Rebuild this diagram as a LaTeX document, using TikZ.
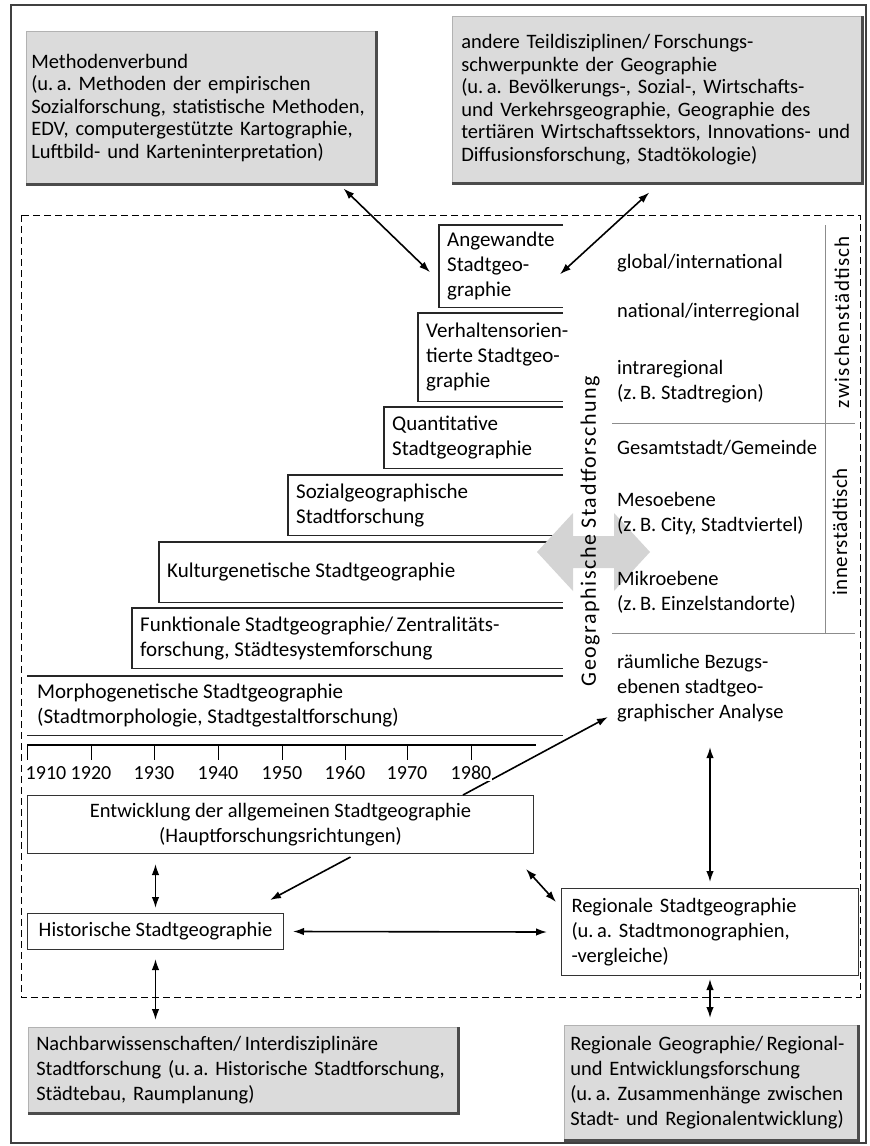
\documentclass[tikz,border=0pt]{standalone}
\usepackage{fontspec}
\setmainfont{Carlito}
\usetikzlibrary{arrows.meta,calc}
\frenchspacing

\begin{document}
\begin{tikzpicture}[x=1pt,y=-1pt,font=\fontsize{20.5}{25}\selectfont,
  greybox/.style={fill=black!14,draw=black!30,line width=0.5pt,anchor=north west,align=left,
    inner ysep=0pt,font=\fontsize{20.5}{22.5}\selectfont},
  shadow/.style={line width=2.2pt,black!70},
  plainbox/.style={draw=black!80,line width=1pt,anchor=north west,inner ysep=0pt},
  stairbox/.style={anchor=north west,align=left,inner xsep=8pt,inner ysep=0pt,font=\fontsize{21}{25}\selectfont},
  stairline/.style={line width=1.3pt,black!85},
  level/.style={anchor=west,align=left,inner sep=0pt},
  vlabel/.style={rotate=90,inner sep=0pt},
  sep/.style={black!45,line width=0.8pt},
  both/.style={{Latex[length=11pt,width=7.5pt]}-{Latex[length=11pt,width=7.5pt]},line width=1.6pt},
  onto/.style={-{Latex[length=11pt,width=7.5pt]},line width=1.6pt},
  year/.style={fill=white,inner sep=1pt,font=\fontsize{20}{22}\selectfont}]
\useasboundingbox (0,0) rectangle (870,1146);
\draw[black!75,line width=1.2pt] (11,5) rectangle (866,1143);
\draw[line width=1pt,dash pattern=on 7pt off 4pt] (21,215) rectangle (860,997);

\node[greybox,inner xsep=5pt,text width=340,minimum height=153] (methods) at (26,31)
  {Methodenverbund\\(u.\,a. Methoden der empirischen\\Sozialforschung, statistische Methoden,\\
   EDV, computergestützte Kartographie,\\Luftbild- und Karteninterpretation)};
\node[greybox,inner xsep=9pt,text width=392,minimum height=167] (subdisc) at (452,16)
  {andere Teildisziplinen/\,Forschungs-\\schwerpunkte der Geographie\\(u.\,a. Bevölkerungs-, Sozial-, Wirtschafts-\\
   und Verkehrsgeographie, Geographie des\\tertiären Wirtschaftssektors, Innovations- und\\
   Diffusionsforschung, Stadtökologie)};

\coordinate (stairend) at (563,0);
\node[stairbox,minimum height=82] (angew) at (439,225) {Angewandte\\Stadtgeo-\\graphie};
\node[stairbox,minimum height=88] (verh) at (418,313) {Verhaltensorien-\\tierte Stadtgeo-\\graphie};
\node[stairbox,minimum height=61] (quant) at (384,407) {Quantitative\\Stadtgeographie};
\node[stairbox,minimum height=60] (sozial) at (288,475) {Sozialgeographische\\Stadtforschung};
\node[stairbox,minimum height=60] (kultur) at (159,542) {Kulturgenetische Stadtgeographie};
\node[stairbox,minimum height=60] (funkt) at (132,608)
  {Funktionale Stadtgeographie/\,Zentralitäts-\\forschung, Städtesystemforschung};
\node[stairbox,inner xsep=10pt,minimum height=59] (morph) at (27,676)
  {Morphogenetische Stadtgeographie\\(Stadtmorphologie, Stadtgestaltforschung)};
\foreach \n in {angew,verh,quant,sozial,kultur,funkt}
  \draw[stairline] (\n.north west -| stairend) -- (\n.north west) -- (\n.south west) -- (\n.south west -| stairend);
\draw[stairline] (morph.north west -| stairend) -- (morph.north west) (morph.south west) -- (morph.south west -| stairend);

\fill[black!17] (537,552) -- (573,513) -- (573,536) -- (614,536) -- (614,513) -- (650,552)
  -- (614,591) -- (614,568) -- (573,568) -- (573,591) -- cycle;
\node[vlabel,font=\fontsize{22}{24}\selectfont\addfontfeature{LetterSpace=7}] (geo) at (590,531) {Geographische Stadtforschung};

\node[level] (glob) at (617,263) {global/international};
\node[level] (nat) at (617,312) {national/interregional};
\node[level] (intra) at (617,382) {intraregional\\(z.\,B. Stadtregion)};
\node[level] (gesamt) at (617,448) {Gesamtstadt/Gemeinde};
\node[level] (meso) at (617,514) {Mesoebene\\(z.\,B. City, Stadtviertel)};
\node[level] (mikro) at (617,592) {Mikroebene\\(z.\,B. Einzelstandorte)};
\node[level] (raum) at (617,688) {räumliche Bezugs-\\ebenen stadtgeo-\\graphischer Analyse};
\draw[sep] (825,225) -- (825,633);
\draw[sep] (612,423) -- (855,423) (612,633) -- (855,633);
\node[vlabel,font=\fontsize{21}{24}\selectfont\addfontfeature{LetterSpace=6}] (zwischen) at (842,322) {zwischenstädtisch};
\node[vlabel,font=\fontsize{21}{24}\selectfont\addfontfeature{LetterSpace=3}] (inner) at (840,532) {innerstädtisch};

\draw[line width=1.2pt] (27,745) -- (536,745);
\foreach \x in {27,91,154,218,282,345,407,471}
  \draw[line width=1pt] (\x,745) -- (\x,760);

\node[plainbox,align=center,inner xsep=0pt,minimum width=506,minimum height=58] (entw) at (27,795)
  {Entwicklung der allgemeinen Stadtgeographie\\(Hauptforschungsrichtungen)};
\node[plainbox,inner xsep=9pt,minimum width=256,minimum height=36] (hist) at (27,913) {Historische Stadtgeographie};
\node[plainbox,align=left,inner xsep=10pt,text width=277,minimum height=87] (regsg) at (561,888)
  {Regionale Stadtgeographie\\(u.\,a. Stadtmonographien,\\-vergleiche)};
\node[greybox,font=\fontsize{20.5}{25}\selectfont,inner xsep=8pt,text width=414,minimum height=86] (nachbar) at (28,1027)
  {Nachbarwissenschaften/\,Interdisziplinäre\\Stadtforschung (u.\,a. Historische Stadtforschung,\\Städtebau, Raumplanung)};
\node[greybox,font=\fontsize{20.5}{25}\selectfont,inner xsep=6pt,text width=282,minimum height=115] (reggeo) at (564,1025)
  {Regionale Geographie/\,Regional-\\und Entwicklungsforschung\\(u.\,a. Zusammenhänge zwischen\\Stadt- und Regionalentwicklung)};
\foreach \n in {methods,subdisc,nachbar,reggeo}
  \draw[shadow] (\n.north east) -- (\n.south east) -- (\n.south west);

\draw[both] ([shift={(-33,4)}]methods.south east) -- ([shift={(-9,6)}]angew.west);
\draw[both] ([shift={(-8,9)}]subdisc.south) -- ($(angew.east -| stairend)+(-3,8)$);
\draw[onto] ($(entw.north east)+(-71,0)$) -- ($(raum.west)+(-9,29)$);
\draw[both] ($(raum.south -| regsg.north)+(0,25)$) -- ($(regsg.north)+(0,-6)$);
\draw[both] ($(entw.south -| hist.north)+(0,10)$) -- ($(hist.north)+(0,-5)$);
\draw[onto] ($(entw.south)+(70,3)$) -- ($(hist.north east)+(-14,-13)$);
\draw[both] ($(entw.south east)+(-8,15)$) -- ($(regsg.north west)+(-5,14)$);
\draw[both] ($(hist.east)+(9,0)$) -- ($(regsg.west)+(-14,0)$);
\draw[both] ($(hist.south)+(0,9)$) -- ($(hist.south |- nachbar.north)+(0,-7)$);
\draw[both] ($(regsg.south)+(0,3)$) -- ($(regsg.south |- reggeo.north)+(0,-7)$);

\foreach \x/\yr in {46/1910,91/1920,154/1930,218/1940,282/1950,345/1960,407/1970,471/1980}
  \node[year] (y\yr) at (\x,773) {\yr};
\end{tikzpicture}
\end{document}
